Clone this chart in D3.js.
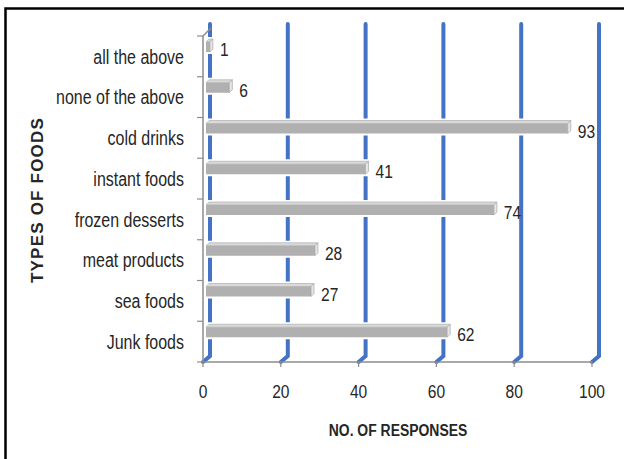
<!DOCTYPE html>
<html>
<head>
<meta charset="utf-8">
<script src="https://cdn.jsdelivr.net/npm/d3@7"></script>
<style>
  body { margin: 0; background: #fff; }
  svg { display: block; }
  text { font-family: "Liberation Sans", Arial, sans-serif; fill: #262626; }
</style>
</head>
<body>
<svg width="624" height="459"></svg>
<script>
var categories = ["Junk foods", "sea foods", "meat products", "frozen desserts",
    "instant foods", "cold drinks", "none of the above", "all the above"];
var responses = [62, 27, 28, 74, 41, 93, 6, 1];
var xTicks = [0, 20, 40, 60, 80, 100];

var floorY = 362, topY = 36;
var depthX = 7, depthY = 6;
var narrow = 0.82; // no narrow face installed, squeeze the regular one

var svg = d3.select("svg");

// position text with a horizontal squeeze
function place(x, y) {
    return "translate(" + x + "," + y + ") scale(" + narrow + ",1)";
}

// outer frame
svg.append("rect")
    .attr("x", 5.5).attr("y", 8.5)
    .attr("width", 640).attr("height", 470)
    .attr("fill", "none").attr("stroke", "#000").attr("stroke-width", 2.5);

var x_scale = d3.scaleLinear().domain([0, 100]).range([203, 592]);
var y_scale = d3.scaleBand().domain(categories).range([floorY, topY]);

// 3D gridlines: back wall + floor slant
svg.append("g").selectAll("path")
    .data(xTicks)
    .enter().append("path")
    .attr("d", function(d) {
        var x = x_scale(d);
        return "M" + (x + depthX) + "," + 24 + "V" + (floorY - depthY) + "L" + x + "," + floorY;
    })
    .attr("fill", "none")
    .attr("stroke", "#4472C4")
    .attr("stroke-width", 4)
    .attr("stroke-linecap", "round");

// left axis line with slant at top
svg.append("path")
    .attr("d", "M" + x_scale(0) + "," + floorY + "V" + topY + "L" + (x_scale(0) + 8) + "," + 28)
    .attr("fill", "none").attr("stroke", "#8c8c8c").attr("stroke-width", 1.5);

// category ticks
svg.append("g").selectAll("line")
    .data(categories.concat(["_top"]))
    .enter().append("line")
    .attr("x1", x_scale(0) - 6).attr("x2", x_scale(0))
    .attr("y1", function(d) { return d === "_top" ? topY : y_scale(d) + y_scale.bandwidth(); })
    .attr("y2", function(d) { return d === "_top" ? topY : y_scale(d) + y_scale.bandwidth(); })
    .attr("stroke", "#8c8c8c").attr("stroke-width", 1.2);

// bottom axis
svg.append("line")
    .attr("x1", x_scale(0)).attr("x2", x_scale(100))
    .attr("y1", floorY).attr("y2", floorY)
    .attr("stroke", "#8c8c8c").attr("stroke-width", 1.5);

svg.append("g").selectAll("line")
    .data(xTicks)
    .enter().append("line")
    .attr("x1", function(d) { return x_scale(d); })
    .attr("x2", function(d) { return x_scale(d); })
    .attr("y1", floorY).attr("y2", floorY + 5)
    .attr("stroke", "#8c8c8c").attr("stroke-width", 1.2);

svg.append("g").selectAll("text")
    .data(xTicks)
    .enter().append("text")
    .attr("transform", function(d) { return place(x_scale(d), 393); })
    .attr("text-anchor", "middle")
    .attr("dominant-baseline", "middle")
    .attr("font-size", "19px")
    .text(function(d) { return d; });

// bars
var bars = svg.append("g").selectAll("g")
    .data(categories)
    .enter().append("g");

var x0 = x_scale(0) + 3;
function barEnd(i) { return x_scale(responses[i]) + 3; }

// white halo to break gridlines
bars.append("rect")
    .attr("x", x0 - 1)
    .attr("y", function(d) { return y_scale(d) + 1; })
    .attr("width", function(d, i) { return barEnd(i) - x0 + 6; })
    .attr("height", 17)
    .attr("fill", "#fff");

// top face
bars.append("path")
    .attr("d", function(d, i) {
        var b = y_scale(d), e = barEnd(i);
        return "M" + x0 + "," + (b + 6) + "L" + (x0 + 3) + "," + (b + 3) +
            "L" + (e + 3) + "," + (b + 3) + "L" + e + "," + (b + 6) + "Z";
    })
    .attr("fill", "#d9d9d9").attr("stroke", "#a6a6a6").attr("stroke-width", 0.6);

// front face
bars.append("rect")
    .attr("x", x0)
    .attr("y", function(d) { return y_scale(d) + 6; })
    .attr("width", function(d, i) { return barEnd(i) - x0; })
    .attr("height", 10)
    .attr("fill", "#b0b0b0");

// end cap
bars.append("path")
    .attr("d", function(d, i) {
        var b = y_scale(d), e = barEnd(i);
        return "M" + e + "," + (b + 6) + "L" + (e + 3) + "," + (b + 3) +
            "L" + (e + 3) + "," + (b + 13) + "L" + e + "," + (b + 16) + "Z";
    })
    .attr("fill", "#e6e6e6").attr("stroke", "#9a9a9a").attr("stroke-width", 0.6);

// value labels
bars.append("text")
    .attr("transform", function(d, i) { return place(barEnd(i) + 10, y_scale(d) + 15); })
    .attr("dominant-baseline", "middle")
    .attr("font-size", "19px")
    .text(function(d, i) { return responses[i]; });

// category labels
svg.append("g").selectAll("text")
    .data(categories)
    .enter().append("text")
    .attr("transform", function(d) { return place(184, y_scale(d) + y_scale.bandwidth() / 2 + 2); })
    .attr("text-anchor", "end")
    .attr("dominant-baseline", "middle")
    .attr("font-size", "19.5px")
    .text(function(d) { return d; });

// axis titles
svg.append("text")
    .attr("transform", place(398, 432))
    .attr("text-anchor", "middle")
    .attr("dominant-baseline", "middle")
    .attr("font-size", "17px")
    .attr("font-weight", "bold")
    .attr("fill", "#000")
    .text("NO. OF RESPONSES");

svg.append("text")
    .attr("transform", "translate(39,200) rotate(-90)")
    .attr("text-anchor", "middle")
    .attr("dominant-baseline", "middle")
    .attr("font-size", "17px")
    .attr("font-weight", "bold")
    .attr("letter-spacing", "1.2px")
    .attr("fill", "#000")
    .text("TYPES OF FOODS");
</script>
</body>
</html>
